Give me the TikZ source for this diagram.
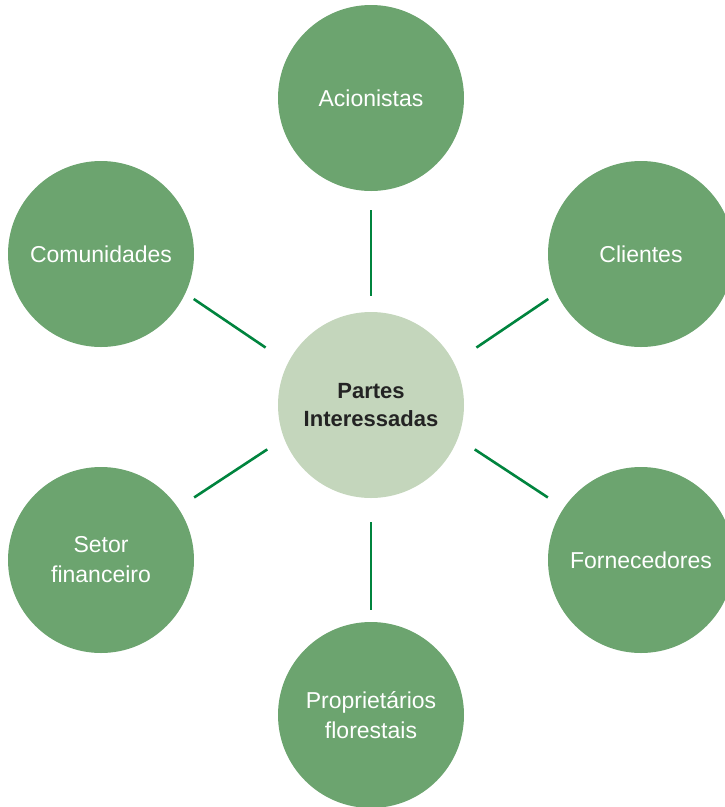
\documentclass[tikz,border=0pt]{standalone}
\usepackage{fontspec}
\setmainfont{Liberation Sans}
\usepackage{tikz}
\usetikzlibrary{positioning}

\definecolor{leaf}{RGB}{108,164,111}
\definecolor{sage}{RGB}{196,214,188}
\definecolor{stem}{RGB}{0,132,62}
\definecolor{ink}{RGB}{35,35,35}

\begin{document}
\begin{tikzpicture}[
  x=1pt, y=-1pt,
  font=\fontsize{23}{30}\selectfont,
  sh/.style={circle, fill=leaf, text=white, align=center, minimum size=186pt, inner sep=0pt},
  hub/.style={circle, fill=sage, text=ink, align=center, minimum size=186pt, inner sep=0pt,
    font=\fontsize{22}{28}\selectfont\bfseries},
  ln/.style={stem, line width=2.6pt}
]
\useasboundingbox (0,0) rectangle (725,807);
\node[hub] (c) at (371,405) {Partes\\Interessadas};
\node[sh] (a) at (371,98) {Acionistas};
\node[sh] (cl) at (641,254) {Clientes};
\node[sh] (fo) at (641,560) {Fornecedores};
\node[sh] (pf) at (371,715) {Propriet\'arios\\florestais};
\node[sh] (sf) at (101,560) {Setor\\financeiro};
\node[sh] (co) at (101,254) {Comunidades};
% spokes
\draw[ln, shorten <=19pt, shorten >=16pt] (a) -- (c);
\draw[ln, shorten <=12pt, shorten >=24pt] (pf) -- (c);
\draw[ln, shorten <=10pt, shorten >=27pt] (co.-25) -- (c.153);
\draw[ln, shorten <=10pt, shorten >=27pt] (cl.205) -- (c.27);
\draw[ln, shorten <=19pt, shorten >=20pt] (sf.34) -- (c.201);
\draw[ln, shorten <=19pt, shorten >=20pt] (fo.146) -- (c.-21);
\end{tikzpicture}
\end{document}
